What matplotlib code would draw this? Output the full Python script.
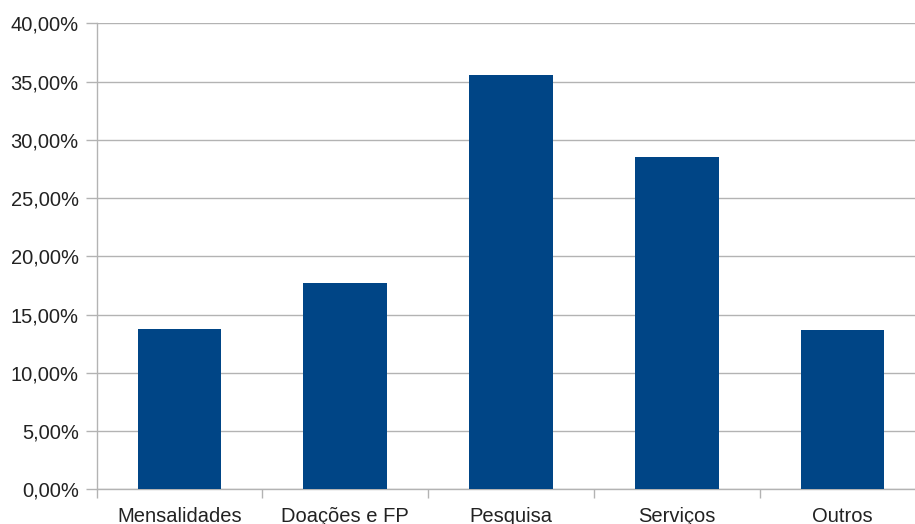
import matplotlib
matplotlib.use("Agg")
from matplotlib import pyplot as plt
from matplotlib.ticker import FuncFormatter
import numpy as np

categorias = ["Mensalidades", "Doações e FP", "Pesquisa", "Serviços", "Outros"]
valores = [13.8, 17.7, 35.6, 28.5, 13.7]   # em %
ticks_y = [0, 5, 10, 15, 20, 25, 30, 35, 40]

plt.rcParams['font.family'] = ['Liberation Sans', 'DejaVu Sans']

fig = plt.figure(figsize=(9.15, 5.24), dpi=100)
# o gráfico original está cortado à direita
ax = fig.add_axes([0.1057, 0.0662, 0.9055, 0.889])

x = np.arange(len(categorias))
ax.bar(x, valores, width=0.505, color="#004586", zorder=3)

ax.set_xlim(-0.5, len(categorias) - 0.5)
ax.set_ylim(0, 40)
ax.set_yticks(ticks_y)
ax.yaxis.set_major_formatter(FuncFormatter(lambda v, p: f"{v:.2f}".replace(".", ",") + "%"))
ax.grid(axis="y", color="#b3b3b3", linewidth=1.0, zorder=0)

# rótulos no centro, marcas nas fronteiras das categorias
ax.set_xticks(x)
ax.set_xticklabels(categorias)
ax.set_xticks(np.arange(-0.5, len(categorias)), minor=True)
ax.tick_params(axis="x", which="major", length=0, pad=13, labelsize=14.5, labelcolor="#222222")
ax.tick_params(axis="x", which="minor", length=6.5, width=1, color="#b3b3b3")
ax.tick_params(axis="y", length=8, width=1, color="#b3b3b3", pad=5, labelsize=14.5, labelcolor="#222222")

for s in ["top", "right"]:
    ax.spines[s].set_visible(False)
for s in ["left", "bottom"]:
    ax.spines[s].set_color("#b3b3b3")
    ax.spines[s].set_linewidth(1)

fig.savefig("out.png", dpi=100)
